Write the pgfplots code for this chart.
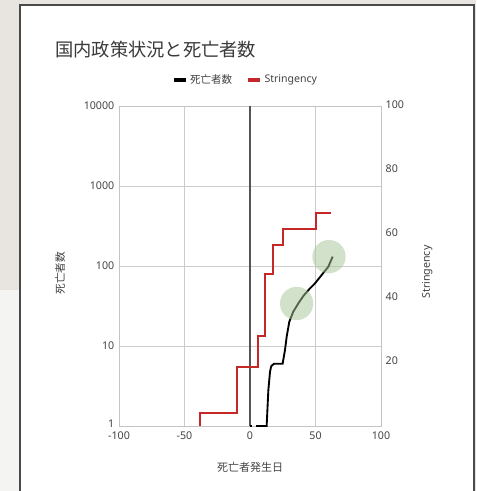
\documentclass[border=0pt]{standalone}
\usepackage{fontspec}
\setmainfont{Noto Sans}
\newfontfamily\jp{Noto Sans CJK JP}
\usepackage{pgfplots}
\pgfplotsset{compat=1.18}

\definecolor{paper}{HTML}{E8E5E0}
\definecolor{paperlight}{HTML}{F4F4F3}
\definecolor{cardedge}{HTML}{4A4A4A}
\definecolor{titlegray}{HTML}{3A3A3A}
\definecolor{labelgray}{HTML}{444444}
\definecolor{gridgray}{HTML}{CCCCCC}
\definecolor{framegray}{HTML}{C4C4C4}
\definecolor{zeroline}{HTML}{555555}
\definecolor{strred}{HTML}{C62828}
\definecolor{highlight}{HTML}{A6C796}

% Deaths (log scale), day relative to first death
\pgfplotstableread{
day deaths
0.0 1
1.5 1
}\deathsfirst
\pgfplotstableread{
day deaths
4.6 1
12.7 1
14.0 2.8
15.3 4.8
16.2 5.6
18.3 6
24.9 6
26.7 8.9
28.0 13.1
30.0 20.1
33.0 26.8
36.9 34.1
40.7 42.2
45.8 52.6
49.6 60.7
54.7 77.2
59.8 98
63.1 131
}\deaths

% Stringency index (0-100), stepwise
\pgfplotstableread{
day index
-38.0 0
-38.0 4.2
-10.0 4.2
-10.0 18.3
6.4 18.3
6.4 28.2
11.5 28.2
11.5 47.4
17.8 47.4
17.8 56.6
24.9 56.6
24.9 61.5
50.1 61.5
50.1 66.5
61.8 66.5
}\stringency

\pgfplotsset{
  common/.style={
    scale only axis,
    width=196.5pt, height=240pt,
    at={(89.25pt,-319.5pt)}, anchor=south west,
    xmin=-100, xmax=100,
    tick style={draw=none},
    major tick length=0pt,
    ticklabel style={font=\fontsize{8}{9}\selectfont, text=labelgray},
    /pgf/number format/assume math mode=true,
  },
}

\begin{document}
\begin{tikzpicture}
\begin{scope}[x=0.75pt,y=-0.75pt]
  \path[use as bounding box] (0,0) rectangle (476,491);
  \fill[paper] (0,0) rectangle (476,491);
  \fill[paperlight] (0,290) rectangle (20,491);
  \fill[white] (20,5) rectangle (474,491);
  \draw[cardedge, line width=1.3pt] (20,491) -- (20,5) -- (474,5) -- (474,491);
  \node[anchor=west, inner sep=0pt, font=\jp\fontsize{13.7}{16}\selectfont, text=titlegray]
    at (55,50) {国内政策状況と死亡者数};
\end{scope}

% Left axis: deaths on a log scale
\begin{axis}[
  common,
  ymode=log, ymin=1, ymax=10000,
  xtick={-100,-50,0,50,100},
  ytick={1,10,100,1000,10000},
  yticklabels={\raisebox{4pt}{1},10,100,1000,10000},
  xticklabel style={yshift=-1pt},
  grid=major,
  major grid style={gridgray, line width=0.7pt},
  axis line style={framegray, line width=0.7pt},
  xlabel={\jp 死亡者発生日},
  xlabel style={at={(rel axis cs:0.5,-0.128)}, anchor=center,
    font=\fontsize{8.25}{10}\selectfont, text=labelgray},
  ylabel={\jp 死亡者数},
  ylabel style={at={(rel axis cs:-0.2252,0.478)}, anchor=center,
    font=\fontsize{8}{10}\selectfont, text=labelgray},
  legend columns=2,
  legend style={at={(0.5,1)}, anchor=center, xshift=-3pt, yshift=19.5pt, draw=none, fill=none,
    font=\fontsize{7.9}{9}\selectfont, text=labelgray,
    /tikz/every even column/.append style={column sep=9pt}},
  legend image code/.code={\draw[line width=2.3pt,#1] (0pt,0pt) -- (9pt,0pt);},
]
  \addplot[zeroline, line width=0.9pt, forget plot] coordinates {(0,1) (0,10000)};
  \addplot[black, line width=1.4pt, forget plot] table[x=day, y=deaths] {\deathsfirst};
  \addplot[black, line width=1.4pt] table[x=day, y=deaths] {\deaths};
  \addlegendentry{\jp 死亡者数}
  \addlegendimage{strred}
  \addlegendentry{Stringency}
  % highlighted points on the deaths curve
  \addplot[only marks, mark=*, mark size=12.5pt, color=highlight,
    fill opacity=0.5, draw opacity=0, forget plot]
    coordinates {(35.6,34) (60.3,131)};
\end{axis}

% Right axis: stringency index
\begin{axis}[
  common,
  axis x line=none,
  axis y line*=right,
  axis line style={framegray, line width=0.7pt},
  ymin=0, ymax=100,
  ytick={20,40,60,80,100},
  yticklabel style={yshift=1pt},
  ylabel={Stringency},
  ylabel style={at={(rel axis cs:1.1767,0.481)}, anchor=center,
    font=\fontsize{8}{10}\selectfont, text=labelgray},
]
  \addplot[strred, line width=1.5pt] table[x=day, y=index] {\stringency};
\end{axis}
\end{tikzpicture}
\end{document}
